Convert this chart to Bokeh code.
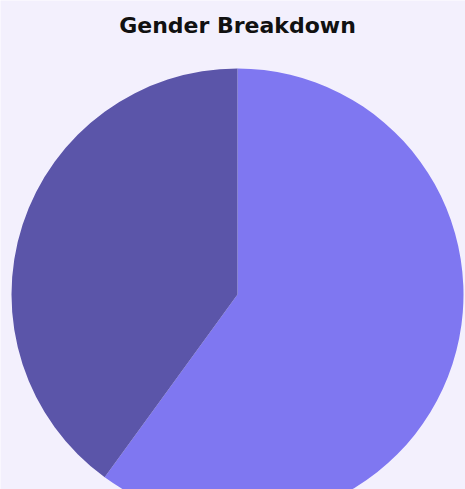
import math
from bokeh.plotting import figure
from bokeh.models import Range1d, Label, ColumnDataSource
from bokeh.embed import file_html
from bokeh.resources import INLINE

categories = ["Female", "Male"]
values = [60, 40]
colors = ["#7F77F1", "#5B55A9"]

total = sum(values)
starts, ends = [], []
cur = math.pi / 2
for v in values:
    ang = v / total * 2 * math.pi
    starts.append(cur - ang)
    ends.append(cur)
    cur -= ang

src = ColumnDataSource(dict(cat=categories, val=values, color=colors, start=starts, end=ends))

W, H = 465, 489
bg = "#F3F0FD"
p = figure(width=W, height=H, output_backend="svg", toolbar_location=None,
           x_range=Range1d(0, W), y_range=Range1d(0, H), min_border=0)
p.axis.visible = False
p.grid.visible = False
p.outline_line_color = None
p.background_fill_color = bg
p.border_fill_color = bg

cx, cy, r = 237, H - 294, 226
p.wedge(x=cx, y=cy, radius=r, start_angle="start", end_angle="end",
        color="color", line_color=None, source=src)

p.add_layout(Label(x=cx, y=H - 25, text="Gender Breakdown", text_align="center",
                   text_baseline="middle", text_font="DejaVu Sans", text_font_size="22px",
                   text_font_style="bold", text_color="#111111"))

open("out.html", "w").write(file_html(p, INLINE))
